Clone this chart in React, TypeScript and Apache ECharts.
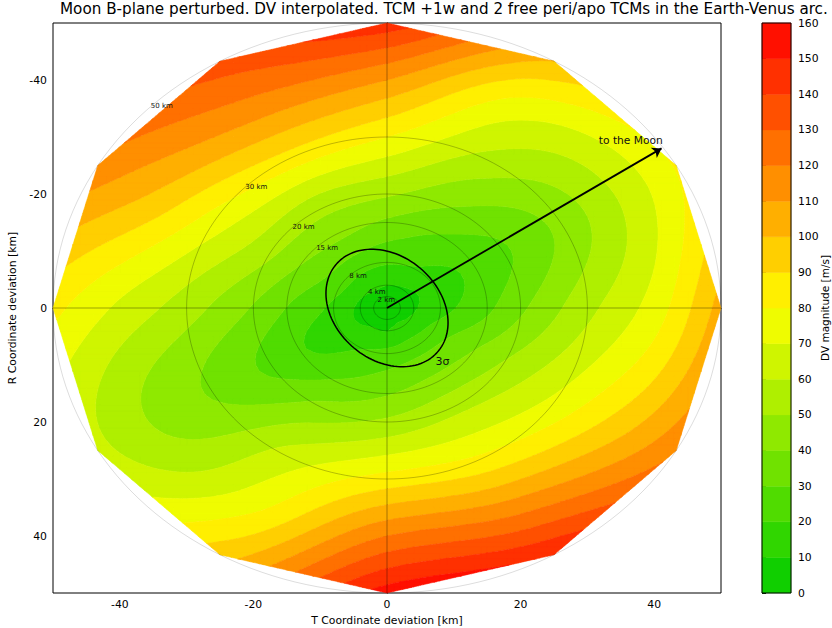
import React, { useEffect, useRef } from "react";
import * as echarts from "echarts";

// ---------------- texts ----------------
const titleText =
  "Moon B-plane perturbed. DV interpolated. TCM +1w and 2 free peri/apo TCMs in the Earth-Venus arc.";
const xAxisName = "T Coordinate deviation [km]";
const yAxisName = "R Coordinate deviation [km]";
const colorbarName = "DV magnitude [m/s]";
const moonLabel = "to the Moon";
const sigmaLabel = "3σ";

// ---------------- axes / levels ----------------
const axisRange = [-50, 50];
const axisTickValues = [-40, -20, 0, 20, 40];
const contourLevels = [0, 10, 20, 30, 40, 50, 60, 70, 80, 90, 100, 110, 120, 130, 140, 150, 160];

// ---------------- DV samples ----------------
// samples on rings of given radius [km], at these angles (deg, from +T toward +R)
const sampleAngles = [0, 30, 60, 90, 120, 150, 180, 210, 240, 270, 300, 330];
const sampleRadii = [0, 2, 4, 8, 15, 20, 30, 40, 50];
const dvCentre = 4;
const dvRing2 = [6.5, 7.2, 7.6, 6.9, 7.0, 6.3, 6.5, 6.9, 7.2, 7.0, 6.7, 6.2];
const dvRing4 = [9.0, 10.8, 12.5, 9.7, 10.0, 8.6, 8.3, 9.7, 10.9, 10.0, 9.3, 8.4];
const dvRing8 = [16.2, 23.6, 25.1, 23.0, 19.1, 13.2, 17.6, 23.2, 22.7, 21.1, 19.2, 14.0];
const dvRing15 = [27.9, 40.0, 43.3, 39.0, 31.1, 21.1, 29.7, 40.0, 42.9, 38.1, 30.0, 23.0];
const dvRing20 = [38.0, 51.0, 56.3, 52.0, 42.5, 27.5, 39.0, 52.5, 52.9, 51.4, 39.1, 28.5];
const dvRing30 = [57.0, 71.0, 81.7, 84.0, 64.0, 38.9, 54.6, 75.0, 85.7, 80.0, 56.7, 43.0];
const dvRing40 = [74.5, 93.8, 115.0, 120.0, 77.0, 49.0, 67.9, 98.9, 114.4, 110.0, 73.8, 61.0];
const dvRing50 = [104, 119, 150, 155, 96, 63, 83, 117, 136, 146, 100, 81];

// ---------------- overlays ----------------
const circleRadii = [2, 4, 8, 15, 20, 30, 50];
const sigmaSemiAxes = [11.0, 8.3];
const sigmaTiltDeg = 58;
const moonArrowTip = [41.1, -28.0];
const moonLabelAt = [36.5, -29.3];
const sigmaLabelAt = [8.3, 9.4];
const ringLabelDirDeg = 225;

// ---------------- styles ----------------
const FONT = "DejaVu Sans";
const cmapStops = ["#00cc00", "#ffff00", "#ff0000"];

const dvRings = [sampleAngles.map(() => dvCentre), dvRing2, dvRing4, dvRing8, dvRing15, dvRing20, dvRing30, dvRing40, dvRing50];

function hexToRgb(h: string) {
  return [parseInt(h.slice(1, 3), 16), parseInt(h.slice(3, 5), 16), parseInt(h.slice(5, 7), 16)];
}
function cmap(t: number) {
  const n = cmapStops.length - 1;
  const f = Math.min(Math.max(t, 0), 1) * n;
  const i = Math.min(Math.floor(f), n - 1);
  const u = f - i;
  const a = hexToRgb(cmapStops[i]);
  const b = hexToRgb(cmapStops[i + 1]);
  const c = a.map((v, k) => Math.round(v + (b[k] - v) * u));
  return `rgb(${c[0]},${c[1]},${c[2]})`;
}
const lvMin = contourLevels[0];
const lvMax = contourLevels[contourLevels.length - 1];
const bandColors = contourLevels
  .slice(0, -1)
  .map((lo, k) => cmap(((lo + contourLevels[k + 1]) / 2 - lvMin) / (lvMax - lvMin)));

// ---------------- field rendering helpers ----------------
function catmullRom(p0: number, p1: number, p2: number, p3: number, t: number) {
  const t2 = t * t;
  const t3 = t2 * t;
  return 0.5 * (2 * p1 + (-p0 + p2) * t + (2 * p0 - 5 * p1 + 4 * p2 - p3) * t2 + (-p0 + 3 * p1 - 3 * p2 + p3) * t3);
}
function ringAt(ring: number[], thetaDeg: number) {
  const n = ring.length;
  const f = thetaDeg / (360 / n);
  const i = Math.floor(f);
  const t = f - i;
  const g = (k: number) => ring[((k % n) + n) % n];
  return catmullRom(g(i - 1), g(i), g(i + 1), g(i + 2), t);
}
function pchip(xs: number[], ys: number[], x: number) {
  const n = xs.length;
  if (x >= xs[n - 1]) {
    const s = (ys[n - 1] - ys[n - 2]) / (xs[n - 1] - xs[n - 2]);
    return ys[n - 1] + s * (x - xs[n - 1]);
  }
  const h: number[] = [];
  const dl: number[] = [];
  for (let k = 0; k < n - 1; k++) {
    h.push(xs[k + 1] - xs[k]);
    dl.push((ys[k + 1] - ys[k]) / h[k]);
  }
  const d = new Array(n).fill(0);
  d[0] = dl[0];
  d[n - 1] = dl[n - 2];
  for (let k = 1; k < n - 1; k++) {
    if (dl[k - 1] * dl[k] <= 0) d[k] = 0;
    else {
      const w1 = 2 * h[k] + h[k - 1];
      const w2 = h[k] + 2 * h[k - 1];
      d[k] = (w1 + w2) / (w1 / dl[k - 1] + w2 / dl[k]);
    }
  }
  let k = 0;
  while (k < n - 2 && x >= xs[k + 1]) k++;
  const t = (x - xs[k]) / h[k];
  const t2 = t * t;
  const t3 = t2 * t;
  return (
    (2 * t3 - 3 * t2 + 1) * ys[k] +
    (t3 - 2 * t2 + t) * h[k] * d[k] +
    (-2 * t3 + 3 * t2) * ys[k + 1] +
    (t3 - t2) * h[k] * d[k + 1]
  );
}
function dvAt(T: number, R: number) {
  const r = Math.hypot(T, R);
  let th = (Math.atan2(R, T) * 180) / Math.PI;
  if (th < 0) th += 360;
  const ys = dvRings.map((ring) => ringAt(ring, th));
  return pchip(sampleRadii, ys, r);
}

type V = [number, number, number];
function clipLevel(poly: V[], level: number, above: boolean): V[] {
  const out: V[] = [];
  const n = poly.length;
  for (let i = 0; i < n; i++) {
    const a = poly[i];
    const b = poly[(i + 1) % n];
    const ia = above ? a[2] >= level : a[2] <= level;
    const ib = above ? b[2] >= level : b[2] <= level;
    if (ia) out.push(a);
    if (ia !== ib) {
      const t = (level - a[2]) / (b[2] - a[2]);
      out.push([a[0] + t * (b[0] - a[0]), a[1] + t * (b[1] - a[1]), level]);
    }
  }
  return out;
}
function clipHull(poly: V[], hull: number[][]): V[] {
  let out = poly;
  for (let e = 0; e < hull.length && out.length; e++) {
    const A = hull[e];
    const B = hull[(e + 1) % hull.length];
    const ex = B[0] - A[0];
    const ey = B[1] - A[1];
    const side = (p: V) => ex * (p[1] - A[1]) - ey * (p[0] - A[0]);
    const src = out;
    out = [];
    for (let i = 0; i < src.length; i++) {
      const a = src[i];
      const b = src[(i + 1) % src.length];
      const sa = side(a);
      const sb = side(b);
      const ia = sa >= -1e-9;
      const ib = sb >= -1e-9;
      if (ia) out.push(a);
      if (ia !== ib) {
        const t = sa / (sa - sb);
        out.push([a[0] + t * (b[0] - a[0]), a[1] + t * (b[1] - a[1]), a[2] + t * (b[2] - a[2])]);
      }
    }
  }
  return out;
}
function inHull(T: number, R: number, hull: number[][]) {
  for (let e = 0; e < hull.length; e++) {
    const A = hull[e];
    const B = hull[(e + 1) % hull.length];
    if ((B[0] - A[0]) * (R - A[1]) - (B[1] - A[1]) * (T - A[0]) < -1e-9) return false;
  }
  return true;
}
const nBands = contourLevels.length - 1;
function bandOf(v: number) {
  let k = 0;
  while (k < nBands - 1 && v >= contourLevels[k + 1]) k++;
  return k;
}

function buildBands() {
  const outer = sampleRadii[sampleRadii.length - 1];
  const hull = sampleAngles.map((a) => [outer * Math.cos((a * Math.PI) / 180), outer * Math.sin((a * Math.PI) / 180)]);
  const step = 1;
  const nodes: number[] = [];
  for (let x = axisRange[0]; x <= axisRange[1] + 1e-9; x += step) nodes.push(x);
  const N = nodes.length;
  const val = new Float64Array(N * N);
  const ins = new Uint8Array(N * N);
  for (let j = 0; j < N; j++)
    for (let i = 0; i < N; i++) {
      val[j * N + i] = dvAt(nodes[i], nodes[j]);
      ins[j * N + i] = inHull(nodes[i], nodes[j], hull) ? 1 : 0;
    }
  const polys: number[][][][] = Array.from({ length: nBands }, () => []);
  for (let j = 0; j < N - 1; j++) {
    let runBand = -1;
    let runStart = 0;
    let runEnd = 0;
    const flush = () => {
      if (runBand >= 0) {
        polys[runBand].push([
          [nodes[runStart], nodes[j]],
          [nodes[runEnd], nodes[j]],
          [nodes[runEnd], nodes[j + 1]],
          [nodes[runStart], nodes[j + 1]],
        ]);
      }
      runBand = -1;
    };
    for (let i = 0; i < N - 1; i++) {
      const id = [j * N + i, j * N + i + 1, (j + 1) * N + i + 1, (j + 1) * N + i];
      const pts: V[] = [
        [nodes[i], nodes[j], val[id[0]]],
        [nodes[i + 1], nodes[j], val[id[1]]],
        [nodes[i + 1], nodes[j + 1], val[id[2]]],
        [nodes[i], nodes[j + 1], val[id[3]]],
      ];
      const allIn = id.every((q) => ins[q] === 1);
      const bands = pts.map((p) => bandOf(p[2]));
      if (allIn && bands.every((b) => b === bands[0])) {
        if (runBand === bands[0]) runEnd = i + 1;
        else {
          flush();
          runBand = bands[0];
          runStart = i;
          runEnd = i + 1;
        }
        continue;
      }
      flush();
      const tris: V[][] = [
        [pts[0], pts[1], pts[2]],
        [pts[0], pts[2], pts[3]],
      ];
      for (const tri of tris) {
        let base = tri;
        if (!allIn) {
          base = clipHull(base, hull);
          if (base.length < 3) continue;
        }
        let vmin = Infinity;
        let vmax = -Infinity;
        for (const p of base) {
          vmin = Math.min(vmin, p[2]);
          vmax = Math.max(vmax, p[2]);
        }
        const k0 = bandOf(vmin);
        const k1 = bandOf(vmax);
        for (let k = k0; k <= k1; k++) {
          let poly = base;
          if (k > 0) poly = clipLevel(poly, contourLevels[k], true);
          if (poly.length >= 3 && k < nBands - 1) poly = clipLevel(poly, contourLevels[k + 1], false);
          if (poly.length >= 3) polys[k].push(poly.map((p) => [p[0], p[1]]));
        }
      }
    }
    flush();
  }
  return polys;
}

function circlePoints(r: number) {
  const pts: number[][] = [];
  for (let a = 0; a <= 360; a += 2) {
    const t = (a * Math.PI) / 180;
    pts.push([r * Math.cos(t), r * Math.sin(t)]);
  }
  return pts;
}
function ellipsePoints() {
  const [a, b] = sigmaSemiAxes;
  const al = (sigmaTiltDeg * Math.PI) / 180;
  const pts: number[][] = [];
  for (let d = 0; d <= 360; d += 3) {
    const p = (d * Math.PI) / 180;
    pts.push([
      a * Math.cos(p) * Math.cos(al) - b * Math.sin(p) * Math.sin(al),
      a * Math.cos(p) * Math.sin(al) + b * Math.sin(p) * Math.cos(al),
    ]);
  }
  return pts;
}

function buildOption() {
  const bandPolys = buildBands();
  const ringDir = (ringLabelDirDeg * Math.PI) / 180;
  const textItems = [
    ...circleRadii.map((r) => ({
      pos: [r * Math.cos(ringDir), r * Math.sin(ringDir)],
      text: `${r} km`,
      size: 7,
      align: "left",
    })),
    { pos: sigmaLabelAt, text: sigmaLabel, size: 11, align: "center" },
    { pos: moonLabelAt, text: moonLabel, size: 10.7, align: "center" },
  ];

  const axisCommon = {
    type: "value",
    min: axisRange[0],
    max: axisRange[1],
    interval: 10,
    axisLine: { show: true, lineStyle: { color: "#000", width: 1 } },
    axisTick: { show: true, length: 4, inside: false, customValues: axisTickValues, lineStyle: { color: "#000", width: 1 } },
    axisLabel: { show: true, customValues: axisTickValues, fontSize: 10.8, color: "#000", fontFamily: FONT, margin: 6 },
    splitLine: { show: false },
    nameLocation: "middle",
    nameTextStyle: { fontSize: 10.8, color: "#000", fontFamily: FONT },
  };

  const circleSeries = circleRadii.map((r, idx) => ({
    type: "line",
    xAxisIndex: 0,
    yAxisIndex: 0,
    data: circlePoints(r),
    showSymbol: false,
    symbol: "none",
    silent: true,
    z: 3,
    lineStyle: {
      color: idx === circleRadii.length - 1 ? "rgba(0,0,0,0.2)" : "rgba(0,0,0,0.35)",
      width: 0.7,
    },
  }));

  return {
    animation: false,
    backgroundColor: "#fff",
    textStyle: { fontFamily: FONT },
    title: {
      text: titleText,
      left: 60,
      top: 1,
      padding: 0,
      textStyle: { fontSize: 15.2, lineHeight: 15, fontWeight: "normal", color: "#000", fontFamily: FONT },
    },
    grid: [
      { left: 53, top: 23, width: 668, height: 570, show: true, borderColor: "#000", borderWidth: 1, backgroundColor: "transparent", outerBoundsMode: "none", containLabel: false },
      { left: 762, top: 23, width: 29, height: 570, show: false, outerBoundsMode: "none", containLabel: false },
    ],
    xAxis: [
      { ...axisCommon, gridIndex: 0, name: xAxisName, nameGap: 20 },
      { gridIndex: 1, type: "value", min: 0, max: 1, show: false },
    ],
    yAxis: [
      { ...axisCommon, gridIndex: 0, inverse: true, name: yAxisName, nameGap: 23, nameRotate: 90 },
      {
        gridIndex: 1,
        type: "value",
        position: "right",
        min: lvMin,
        max: lvMax,
        interval: 10,
        axisLine: { show: false },
        axisTick: { show: true, length: 4, inside: false, lineStyle: { color: "#000", width: 1 } },
        axisLabel: { show: true, fontSize: 10.8, color: "#000", fontFamily: FONT, margin: 7 },
        splitLine: { show: false },
        name: colorbarName,
        nameLocation: "middle",
        nameRotate: 90,
        nameGap: 28,
        nameMoveOverlap: false,
        nameTextStyle: { fontSize: 10.5, lineHeight: 11, color: "#000", fontFamily: FONT },
      },
    ],
    series: [
      {
        type: "custom",
        xAxisIndex: 0,
        yAxisIndex: 0,
        silent: true,
        z: 1,
        data: bandColors.map(() => [0, 0]),
        renderItem: (params: any, api: any) => {
          const k = params.dataIndex;
          const parts: string[] = [];
          for (const poly of bandPolys[k]) {
            let s = "";
            for (let m = 0; m < poly.length; m++) {
              const c = api.coord(poly[m]);
              s += (m ? "L" : "M") + c[0].toFixed(2) + " " + c[1].toFixed(2);
            }
            parts.push(s + "Z");
          }
          return {
            type: "path",
            shape: { pathData: parts.join("") },
            style: { fill: bandColors[k], stroke: bandColors[k], lineWidth: 0.5 },
          };
        },
      },
      {
        type: "line",
        xAxisIndex: 0,
        yAxisIndex: 0,
        data: [[axisRange[0], 0], [axisRange[1], 0]],
        showSymbol: false,
        symbol: "none",
        silent: true,
        z: 2,
        lineStyle: { color: "rgba(0,0,0,0.35)", width: 1 },
      },
      {
        type: "line",
        xAxisIndex: 0,
        yAxisIndex: 0,
        data: [[0, axisRange[0]], [0, axisRange[1]]],
        showSymbol: false,
        symbol: "none",
        silent: true,
        z: 2,
        lineStyle: { color: "rgba(0,0,0,0.35)", width: 1 },
      },
      ...circleSeries,
      {
        type: "line",
        xAxisIndex: 0,
        yAxisIndex: 0,
        data: ellipsePoints(),
        showSymbol: false,
        symbol: "none",
        silent: true,
        z: 4,
        lineStyle: { color: "#000", width: 1.5 },
      },
      {
        type: "lines",
        coordinateSystem: "cartesian2d",
        xAxisIndex: 0,
        yAxisIndex: 0,
        silent: true,
        z: 5,
        symbol: ["none", "arrow"],
        symbolSize: 9,
        lineStyle: { color: "#000", width: 1.8, opacity: 1, curveness: 0 },
        data: [{ coords: [[0, 0], moonArrowTip] }],
      },
      {
        type: "custom",
        xAxisIndex: 0,
        yAxisIndex: 0,
        silent: true,
        z: 6,
        data: textItems.map((t) => t.pos),
        renderItem: (params: any, api: any) => {
          const t = textItems[params.dataIndex];
          const c = api.coord(t.pos);
          return {
            type: "text",
            x: c[0],
            y: c[1],
            style: {
              text: t.text,
              fontSize: t.size,
              fontFamily: FONT,
              fill: "#111",
              align: t.align,
              verticalAlign: "middle",
            },
          };
        },
      },
      {
        type: "custom",
        xAxisIndex: 1,
        yAxisIndex: 1,
        silent: true,
        z: 2,
        data: [...bandColors.map((_, k) => [0.5, (contourLevels[k] + contourLevels[k + 1]) / 2]), [0.5, 80]],
        renderItem: (params: any, api: any) => {
          const k = params.dataIndex;
          if (k >= bandColors.length) {
            const p0 = api.coord([0, lvMin]);
            const p1 = api.coord([1, lvMax]);
            return {
              type: "rect",
              z2: 10,
              shape: { x: p0[0], y: p1[1], width: p1[0] - p0[0], height: p0[1] - p1[1] },
              style: { fill: "none", stroke: "#000", lineWidth: 1 },
            };
          }
          const p0 = api.coord([0, contourLevels[k]]);
          const p1 = api.coord([1, contourLevels[k + 1]]);
          return {
            type: "rect",
            shape: { x: p0[0], y: p1[1], width: p1[0] - p0[0], height: p0[1] - p1[1] },
            style: { fill: bandColors[k], stroke: bandColors[k], lineWidth: 0.5 },
          };
        },
      },
    ],
  };
}

export default function App() {
  const ref = useRef<HTMLDivElement>(null);
  useEffect(() => {
    if (!ref.current) return;
    const chart = echarts.init(ref.current, null, { renderer: "svg" });
    chart.setOption(buildOption() as any);
    return () => {
      chart.dispose();
    };
  }, []);
  return (
    <div
      ref={ref}
      style={{ position: "fixed", left: 0, top: 0, width: 832, height: 628, background: "#fff" }}
    />
  );
}
